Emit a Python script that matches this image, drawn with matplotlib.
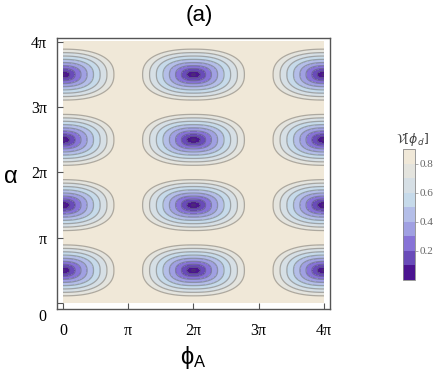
import numpy as np
import matplotlib
matplotlib.use("Agg")
import matplotlib.pyplot as plt
from matplotlib.colors import ListedColormap, BoundaryNorm
import matplotlib.cm as cm

pi = np.pi

# minima of the visibility map
phi_centers = [0.0, 2 * pi, 4 * pi]
alpha_centers = [0.5 * pi, 1.5 * pi, 2.5 * pi, 3.5 * pi]
half_width = 0.78 * pi     # extent of the 0.8 contour along phi_A
half_height = 0.39 * pi    # extent of the 0.8 contour along alpha
v_min = -0.05
v_edge = 0.8
v_max = 0.88

band_levels = [0.0, 0.1, 0.2, 0.3, 0.4, 0.5, 0.6, 0.7, 0.8, 0.9]
line_levels = [0.0, 0.1, 0.2, 0.3, 0.4, 0.5, 0.6, 0.7, 0.8]
band_colors = ['#4b1491', '#694bb9', '#8773d7', '#a0a0e2', '#b4bee8',
               '#c6daea', '#d6dfe5', '#e4e4de', '#f0e8d8']
tick_pos = [0, pi, 2 * pi, 3 * pi, 4 * pi]
tick_txt = ['0', 'π', '2π', '3π', '4π']

# grid
phi = np.linspace(0, 4 * pi, 600)
alpha = np.linspace(0, 4 * pi, 600)
P, A = np.meshgrid(phi, alpha)
dx = np.min([np.abs(P - c) for c in phi_centers], axis=0) / half_width
dy = np.min([np.abs(A - c) for c in alpha_centers], axis=0) / half_height
n = 2.4
r = (dx ** n + dy ** n) ** (1.0 / n)
V = np.clip(v_min + (v_edge - v_min) * r ** 0.85, v_min, v_max)

fig = plt.figure(figsize=(4.34, 3.75), dpi=100)
ax = fig.add_axes([57 / 434, 66 / 375, 273 / 434, 271 / 375])
ax.set_facecolor('white')

cmap = ListedColormap(band_colors)
fill_levels = [-0.2] + band_levels[1:]
ax.contourf(P, A, V, levels=fill_levels, colors=band_colors)
ax.contour(P, A, V, levels=line_levels, colors='#505050', linewidths=0.9, alpha=0.42)

ax.set_xlim(-0.092 * pi, 4.092 * pi)
ax.set_ylim(-0.092 * pi, 4.061 * pi)
for s in ax.spines.values():
    s.set_color('#555555')
    s.set_linewidth(1.0)

serif = ['Liberation Serif', 'DejaVu Serif']
ax.set_xticks(tick_pos)
ax.set_xticklabels(tick_txt, family=serif, fontsize=11.5)
ax.set_yticks(tick_pos)
ax.set_yticklabels([''] + tick_txt[1:], family=serif, fontsize=11.5)
ax.tick_params(axis='x', direction='in', length=4, pad=10, color='#555555')
ax.tick_params(axis='y', direction='in', length=4, pad=7, color='#555555')
ax.text(-0.31 * pi, -0.21 * pi, '0', family=serif, fontsize=11.5,
        ha='center', va='center', clip_on=False)

ax.set_xlabel(r'$\mathregular{\phi_A}$', fontsize=17, family='Liberation Sans', labelpad=4)
fig.text(10 / 434, 1 - 177 / 375, r'$\mathregular{\alpha}$', fontsize=17,
         family='Liberation Sans', ha='center', va='center')
fig.text(199 / 434, 1 - 15 / 375, '(a)', fontsize=16, family='Liberation Sans',
         ha='center', va='center')

# colorbar
cax = fig.add_axes([403 / 434, 95 / 375, 12 / 434, 131 / 375])
norm = BoundaryNorm(band_levels, cmap.N)
sm = cm.ScalarMappable(norm=norm, cmap=cmap)
cb = fig.colorbar(sm, cax=cax, ticks=[0.2, 0.4, 0.6, 0.8])
cb.outline.set_edgecolor('#888888')
cb.outline.set_linewidth(0.6)
cax.minorticks_off()
cax.tick_params(length=2, width=0.5, color='#888888', labelsize=8, labelcolor='#666666', pad=1)
cax.set_yticklabels(['0.2', '0.4', '0.6', '0.8'], family=serif)
fig.text(412 / 434, 1 - 140 / 375, r'$\mathcal{V}[\phi_d]$', fontsize=9,
         color='#444444', ha='center', va='center')

fig.savefig('out.png', dpi=100)
